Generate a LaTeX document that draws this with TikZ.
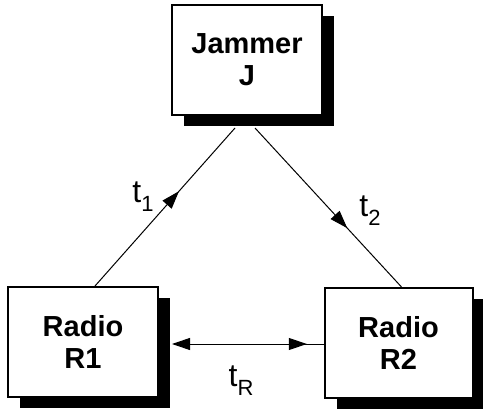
\documentclass[tikz,border=0pt]{standalone}
\usepackage{fontspec}
\setmainfont{Liberation Sans}
\usetikzlibrary{arrows.meta,shadows,calc,decorations.markings}
\begin{document}
\begin{tikzpicture}[x=1pt,y=-1pt,
  box/.style={draw=black, line width=2pt, fill=white, minimum width=150pt, minimum height=110pt,
    align=center, font=\fontsize{29}{32}\selectfont\bfseries, inner sep=0pt,
    drop shadow={shadow xshift=12pt, shadow yshift=-11pt, fill=black, opacity=1}},
  lbl/.style={font=\fontsize{32}{34}\selectfont, inner sep=0pt},
  conn/.style={line width=1pt},
  midtip/.style={postaction={decorate}, decoration={markings, mark=at position #1 with {\arrow{Triangle[length=18pt,width=12pt]}}}}
]
\useasboundingbox (0,0) rectangle (483,412);
\node[box] (J) at (247,60) {Jammer\\J};
\node[box] (R1) at (83,342) {Radio\\R1};
\node[box, minimum width=148pt] (R2) at (398.5,343) {Radio\\R2};
\coordinate (a1) at ($(R1.north)+(12,0)$);
\coordinate (a2) at ($(J.south)+(-12,12)$);
\coordinate (b1) at ($(J.south)+(8,12)$);
\coordinate (b2) at ($(R2.north)+(3,0)$);
\coordinate (c1) at ($(R1.east)+(13,2)$);
\coordinate (c2) at ($(R2.west)+(0,1)$);
\draw[conn, midtip=0.6] (a1) -- (a2);
\draw[conn, midtip=0.63] (b1) -- (b2);
\draw[conn, {Triangle[length=18pt,width=12pt]}-, midtip=0.89] (c1) -- (c2);
\node[lbl] (t1) at (143,197) {t\raisebox{-9pt}{\fontsize{22}{22}\selectfont 1}};
\node[lbl] (t2) at (370,211) {t\raisebox{-9pt}{\fontsize{22}{22}\selectfont 2}};
\node[lbl] (tR) at (241,381) {t\raisebox{-9pt}{\fontsize{22}{22}\selectfont R}};
\end{tikzpicture}
\end{document}
